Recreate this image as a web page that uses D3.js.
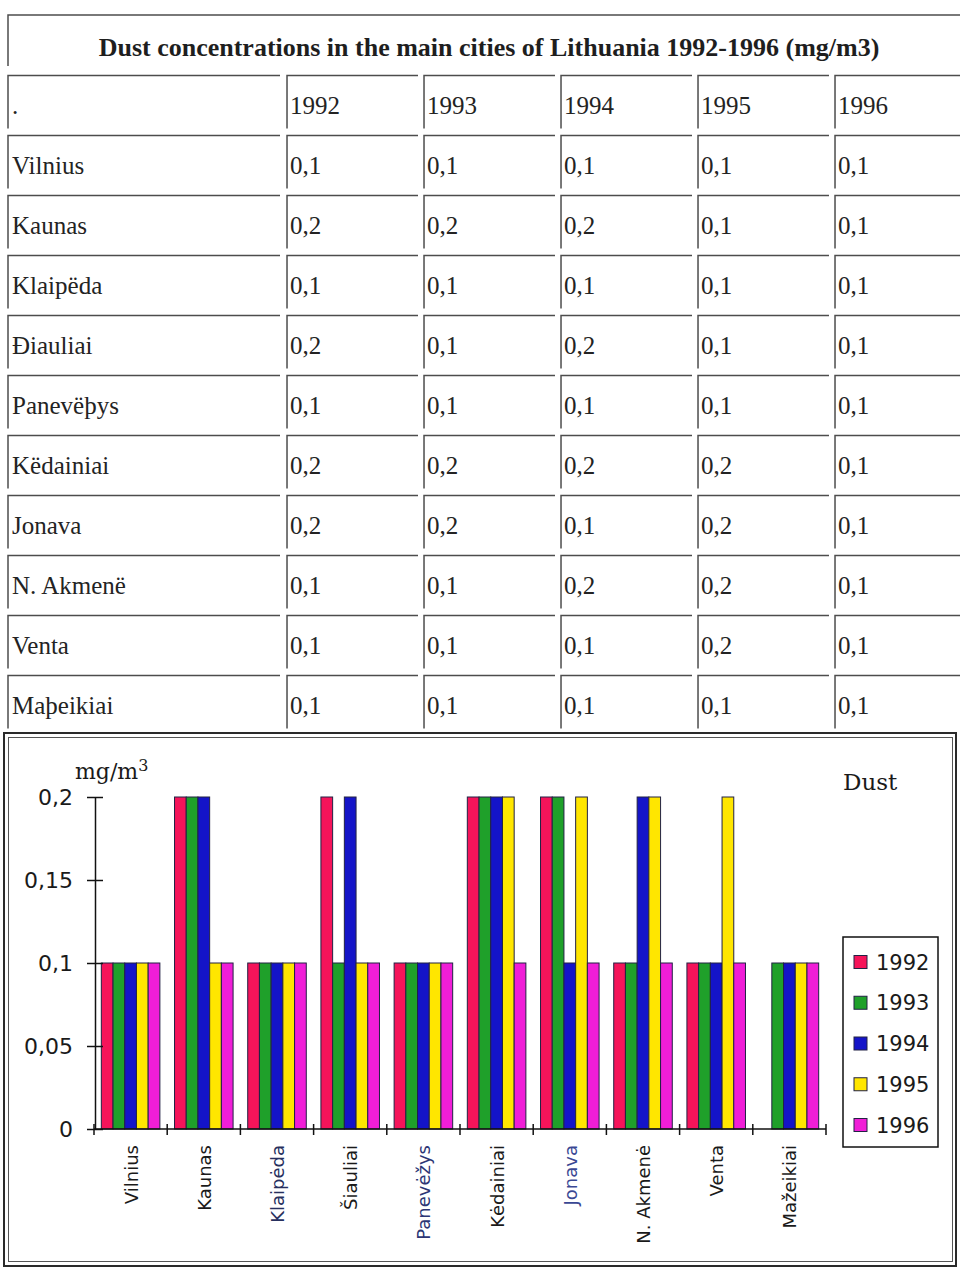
<!DOCTYPE html>
<html>
<head>
<meta charset="utf-8">
<script src="https://cdn.jsdelivr.net/npm/d3@7"></script>
<style>
  body { margin: 0; background: #fff; }
  svg { display: block; }
</style>
</head>
<body>
<svg id="page" width="960" height="1271"></svg>
<script>
// ---- data ----
const years = ["1992", "1993", "1994", "1995", "1996"];

// city names as printed in the table header column
const tableCities = ["Vilnius", "Kaunas", "Klaipëda", "Ðiauliai", "Panevëþys",
                     "Këdainiai", "Jonava", "N. Akmenë", "Venta", "Maþeikiai"];
// city names along the chart's category axis
const chartCities = ["Vilnius", "Kaunas", "Klaipėda", "Šiauliai", "Panevėžys",
                     "Kėdainiai", "Jonava", "N. Akmenė", "Venta", "Mažeikiai"];

// table values (mg/m3), one array per year column
const table1992 = [0.1, 0.2, 0.1, 0.2, 0.1, 0.2, 0.2, 0.1, 0.1, 0.1];
const table1993 = [0.1, 0.2, 0.1, 0.1, 0.1, 0.2, 0.2, 0.1, 0.1, 0.1];
const table1994 = [0.1, 0.2, 0.1, 0.2, 0.1, 0.2, 0.1, 0.2, 0.1, 0.1];
const table1995 = [0.1, 0.1, 0.1, 0.1, 0.1, 0.2, 0.2, 0.2, 0.2, 0.1];
const table1996 = [0.1, 0.1, 0.1, 0.1, 0.1, 0.1, 0.1, 0.1, 0.1, 0.1];

// bar chart series (mg/m3); Mažeikiai 1992 is plotted without a bar
const dust1992 = [0.1, 0.2, 0.1, 0.2, 0.1, 0.2, 0.2, 0.1, 0.1, 0];
const dust1993 = [0.1, 0.2, 0.1, 0.1, 0.1, 0.2, 0.2, 0.1, 0.1, 0.1];
const dust1994 = [0.1, 0.2, 0.1, 0.2, 0.1, 0.2, 0.1, 0.2, 0.1, 0.1];
const dust1995 = [0.1, 0.1, 0.1, 0.1, 0.1, 0.2, 0.2, 0.2, 0.2, 0.1];
const dust1996 = [0.1, 0.1, 0.1, 0.1, 0.1, 0.1, 0.1, 0.1, 0.1, 0.1];

const yTicks = [0, 0.05, 0.1, 0.15, 0.2];
const yTickLabels = ["0", "0,05", "0,1", "0,15", "0,2"];

const tableTitle = "Dust concentrations in the main cities of Lithuania 1992-1996 (mg/m3)";
const chartTitle = "Dust";

const tableByYear = [table1992, table1993, table1994, table1995, table1996];
const dustByYear = [dust1992, dust1993, dust1994, dust1995, dust1996];

// ---- styles ----
const yearColors = ["#f5145a", "#1fa02a", "#1414c8", "#ffe600", "#f01ed7"];
const labelColors = ["#1a1a1a", "#1a1a1a", "#27305e", "#1a1a1a", "#2c3675",
                     "#1a1a1a", "#3a4894", "#1a1a1a", "#1a1a1a", "#1a1a1a"];
const serif = "'Liberation Serif', 'Times New Roman', serif";
const sans = "'DejaVu Sans', sans-serif";
const gridColor = "#4d4d4d";

const svg = d3.select("#page");
const fmt = v => String(v).replace(".", ",");

// ---- table ----
const table = svg.append("g");

// title row: top and left rule only
table.append("path")
  .attr("d", "M8,66V15H960")
  .attr("fill", "none").attr("stroke", gridColor).attr("stroke-width", 1.5);
table.append("text")
  .attr("x", 489).attr("y", 56)
  .attr("text-anchor", "middle")
  .attr("font-family", serif).attr("font-weight", "bold").attr("font-size", 26)
  .attr("fill", "#1e1e1e")
  .text(tableTitle);

const rowKeys = ["head"].concat(tableCities);
const rowY = d3.scaleBand().domain(rowKeys).range([72, 732])
  .paddingInner(7 / 60).paddingOuter(3.5 / 60);
const colX = d3.scaleBand().domain(years).range([284, 969])
  .paddingInner(0.044).paddingOuter(0.022);
const firstCol = { x0: 8, x1: 280 };

const cells = [];
rowKeys.forEach((r, ri) => {
  cells.push({ x: firstCol.x0, w: firstCol.x1 - firstCol.x0, y: rowY(r),
               text: r === "head" ? "." : r, pad: 4 });
  years.forEach((yr, ci) => {
    cells.push({ x: colX(yr), w: Math.min(colX.bandwidth(), 960 - colX(yr)), y: rowY(r),
                 text: r === "head" ? yr : fmt(tableByYear[ci][ri - 1]), pad: 3 });
  });
});

const cellG = table.selectAll("g.cell").data(cells).join("g").attr("class", "cell");
cellG.append("path")
  .attr("d", d => `M${d.x},${d.y + rowY.bandwidth()}V${d.y}H${d.x + d.w}`)
  .attr("fill", "none").attr("stroke", gridColor).attr("stroke-width", 1.5);
cellG.append("text")
  .attr("x", d => d.x + d.pad).attr("y", d => d.y + 38)
  .attr("font-family", serif).attr("font-size", 25).attr("fill", "#232323")
  .text(d => d.text);

// ---- chart ----
const chart = svg.append("g");

// double frame
chart.append("rect").attr("x", 4).attr("y", 733).attr("width", 952).attr("height", 533)
  .attr("fill", "none").attr("stroke", "#2a2a2a").attr("stroke-width", 2);
chart.append("rect").attr("x", 8.5).attr("y", 737.5).attr("width", 944).attr("height", 524)
  .attr("fill", "none").attr("stroke", "#555").attr("stroke-width", 1);

const y = d3.scaleLinear().domain([0, 0.2]).range([1129, 797]);
const x0 = d3.scaleBand().domain(chartCities).range([94, 826])
  .paddingInner(0.2).paddingOuter(0.1);
const x1 = d3.scaleBand().domain(years).range([0, x0.bandwidth()]);

// bars
const groups = chart.selectAll("g.city").data(chartCities).join("g")
  .attr("class", "city")
  .attr("transform", c => `translate(${x0(c)},0)`);
groups.selectAll("rect")
  .data((c, ci) => years.map((yr, k) => ({ yr, k, v: dustByYear[k][ci] })))
  .join("rect")
  .attr("x", d => x1(d.yr))
  .attr("y", d => y(d.v))
  .attr("width", x1.bandwidth())
  .attr("height", d => y(0) - y(d.v))
  .attr("fill", d => yearColors[d.k])
  .attr("stroke", "#222244").attr("stroke-width", d => d.v === 0 ? 2 : 1);

// y axis with crossing ticks
const yAxis = chart.append("g").attr("transform", "translate(95,0)")
  .call(d3.axisLeft(y).tickValues(yTicks).tickSizeOuter(0).tickSizeInner(8).tickPadding(14)
    .tickFormat((d, i) => yTickLabels[i]));
yAxis.select(".domain").attr("stroke", "#111").attr("stroke-width", 1.5);
yAxis.selectAll(".tick line").attr("x1", 8).attr("x2", -8)
  .attr("stroke", "#111").attr("stroke-width", 1.5);
yAxis.selectAll(".tick text")
  .attr("font-family", sans).attr("font-size", 22).attr("fill", "#1a1a1a");

// x axis: ticks at category boundaries
const half = x0.step() * x0.paddingInner() / 2;
const bounds = chartCities.map(c => x0(c) - half).concat([x0(chartCities[9]) + x0.bandwidth() + half]);
chart.append("line")
  .attr("x1", bounds[0]).attr("x2", bounds[bounds.length - 1])
  .attr("y1", y(0)).attr("y2", y(0))
  .attr("stroke", "#111").attr("stroke-width", 1.5);
chart.selectAll("line.xtick").data(bounds).join("line").attr("class", "xtick")
  .attr("x1", d => d).attr("x2", d => d)
  .attr("y1", y(0) - 5).attr("y2", y(0) + 6)
  .attr("stroke", "#111").attr("stroke-width", 1.5);

// rotated category labels
chart.selectAll("text.xlabel").data(chartCities).join("text").attr("class", "xlabel")
  .attr("transform", c => `translate(${x0(c) + x0.bandwidth() / 2 + 7},1145) rotate(-90)`)
  .attr("text-anchor", "end")
  .attr("font-family", sans).attr("font-size", 18)
  .attr("fill", (c, i) => labelColors[i])
  .text(c => c);

// unit label
const unit = chart.append("text").attr("x", 75).attr("y", 779)
  .attr("font-family", "'DejaVu Serif', serif").attr("font-size", 22).attr("fill", "#1a1a1a");
unit.append("tspan").text("mg/m");
unit.append("tspan").attr("dy", -8).attr("font-size", 16).text("3");

// chart title
chart.append("text").attr("x", 843).attr("y", 790)
  .attr("font-family", "'DejaVu Serif', serif").attr("font-size", 23).attr("fill", "#1a1a1a")
  .text(chartTitle);

// legend
const legend = chart.append("g");
legend.append("rect").attr("x", 843).attr("y", 937).attr("width", 95).attr("height", 210)
  .attr("fill", "#fff").attr("stroke", "#111").attr("stroke-width", 1.5);
const ly = d3.scalePoint().domain(years).range([962, 1125]);
const items = legend.selectAll("g.item").data(years).join("g").attr("class", "item")
  .attr("transform", yr => `translate(0,${ly(yr)})`);
items.append("rect").attr("x", 854).attr("y", -6.5).attr("width", 13).attr("height", 13)
  .attr("fill", (yr, i) => yearColors[i]).attr("stroke", "#222244").attr("stroke-width", 1);
items.append("text").attr("x", 876).attr("y", 0).attr("dy", "0.36em")
  .attr("font-family", sans).attr("font-size", 21).attr("fill", "#1a1a1a")
  .text(yr => yr);
</script>
</body>
</html>
